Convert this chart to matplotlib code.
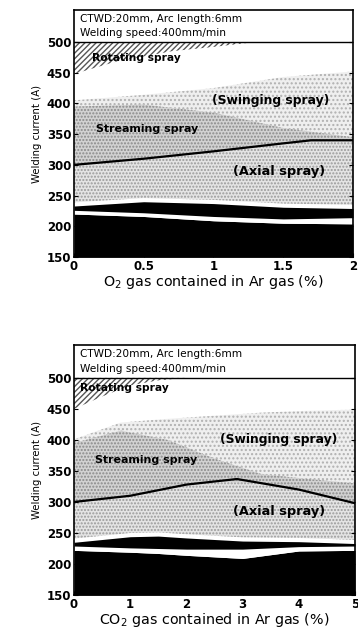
import numpy as np
import matplotlib.pyplot as plt

# --- Daten: O2-Diagramm (oben) ---
o2_x = [0, 0.5, 1.0, 1.5, 1.7, 2.0]
o2_line = [300, 310, 322, 335, 340, 340]
o2_bx = [0, 0.5, 1.0, 1.5, 2.0]
o2_black_low = [220, 216, 209, 205, 204]
o2_white_top = [226, 222, 216, 212, 214]
o2_black_top = [233, 240, 237, 231, 229]
o2_grey_top = [405, 414, 425, 443, 452]
o2_stream_top = [395, 398, 385, 360, 345]
o2_rot_x = [0, 0.3, 0.7, 1.0, 1.3]
o2_rot = [448, 468, 485, 492, 500]

# --- Daten: CO2-Diagramm (unten) ---
co2_x = [0, 1, 2, 2.9, 4, 5]
co2_line = [300, 310, 328, 337, 320, 298]
co2_bx = [0, 1, 1.5, 2, 3, 4, 5]
co2_black_low = [222, 219, 217, 214, 209, 221, 222]
co2_white_top = [229, 226, 225, 224, 224, 228, 229]
co2_black_top = [235, 244, 245, 242, 237, 236, 233]
co2_grey_top = [401, 428, 434, 439, 444, 447, 449]
co2_stream_top = [395, 415, 400, 370, 345, 337, 330]
co2_rot_x = [0, 0.5, 1.0, 1.5, 2.0]
co2_rot = [450, 470, 488, 496, 500]

yticks = [150, 200, 250, 300, 350, 400, 450, 500]
# Schriftgroessen der Bereichsnamen (Rotating, Swinging, Streaming, Axial)
label_sizes = [7.7, 8.9, 7.9, 9.3]

plt.rcParams['font.family'] = 'DejaVu Sans'
fig = plt.figure(figsize=(3.58, 6.29), dpi=100)
ax1 = fig.add_axes([0.2067, 0.5914, 0.7793, 0.3926])
ax2 = fig.add_axes([0.2067, 0.0540, 0.7849, 0.3975])


def panel(ax, xmax, xticks, x, line, bx, blow, wtop, btop, gtop, stop,
          rx, rot, labels, xlabel, ymax):
    ax.set_xlim(0, xmax)
    ax.set_ylim(150, ymax)
    # Grundflaechen
    ax.fill_between(bx, 150, blow, color='black', lw=0)
    ax.fill_between(bx, blow, wtop, color='white', lw=0)
    ax.fill_between(bx, wtop, btop, color='black', lw=0)
    lx = np.interp(bx, x, line)
    ax.fill_between(bx, np.array(btop) + 6, lx, facecolor='#e4e4e4',
                    hatch='.....', edgecolor='#9a9a9a', lw=0)
    gx = np.linspace(0, xmax, len(gtop))
    ax.fill_between(gx, np.interp(gx, x, line), gtop, facecolor='#efefef',
                    hatch='....', edgecolor='#b0b0b0', lw=0)
    ax.fill_between(gx, np.interp(gx, x, line),
                    np.maximum(stop, np.interp(gx, x, line)),
                    facecolor='#d2d2d2', hatch='.....', edgecolor='#8a8a8a', lw=0)
    ax.fill_between(rx, rot, 500, facecolor='white', hatch='//////',
                    edgecolor='#555555', lw=0)
    ax.plot(x, line, color='black', lw=1.6)
    ax.axhline(500, color='black', lw=1)

    for (t, tx, ty), fs in zip(labels, label_sizes):
        ax.text(tx, ty, t, fontsize=fs, fontweight='bold', va='center',
                ha='left', color='black')

    ax.text(0.02 * xmax, 500 + (ymax - 500) * 0.73, 'CTWD:20mm, Arc length:6mm',
            fontsize=7.6, va='center')
    ax.text(0.02 * xmax, 500 + (ymax - 500) * 0.27, 'Welding speed:400mm/min',
            fontsize=7.6, va='center')

    ax.set_yticks(yticks)
    ax.set_xticks(xticks)
    ax.set_xticklabels([('%g' % v) for v in xticks])
    ax.tick_params(direction='in', length=3, labelsize=8.5, pad=2,
                   right=True)
    for lb in ax.get_xticklabels() + ax.get_yticklabels():
        lb.set_fontweight('bold')
    ax.set_ylabel('Welding current (A)', fontsize=7.3, labelpad=3)
    ax.set_xlabel(xlabel, fontsize=10.3, labelpad=0)
    for s in ax.spines.values():
        s.set_linewidth(1.2)


panel(ax1, 2, [0, 0.5, 1, 1.5, 2], o2_x, o2_line, o2_bx, o2_black_low,
      o2_white_top, o2_black_top, o2_grey_top, o2_stream_top, o2_rot_x, o2_rot,
      [('Rotating spray', 0.13, 474), ('(Swinging spray)', 0.99, 405),
       ('Streaming spray', 0.16, 358), ('(Axial spray)', 1.14, 290)],
      'O$_2$ gas contained in Ar gas (%)', 552)
panel(ax2, 5, [0, 1, 2, 3, 4, 5], co2_x, co2_line, co2_bx, co2_black_low,
      co2_white_top, co2_black_top, co2_grey_top, co2_stream_top, co2_rot_x,
      co2_rot,
      [('Rotating spray', 0.1, 484), ('(Swinging spray)', 2.6, 401),
       ('Streaming spray', 0.37, 368), ('(Axial spray)', 2.83, 284)],
      'CO$_2$ gas contained in Ar gas (%)', 553)

fig.savefig('out.png', dpi=100)
